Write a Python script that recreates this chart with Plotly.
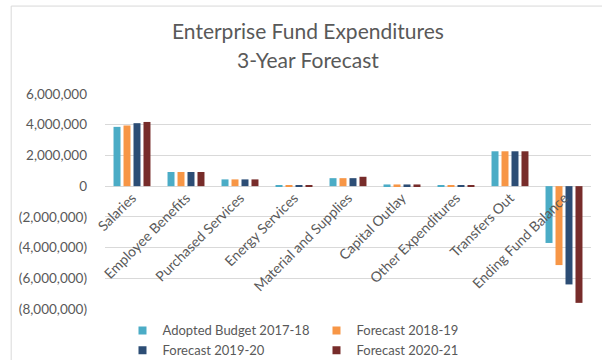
import plotly.graph_objects as go

categories = [
    "Salaries", "Employee Benefits", "Purchased Services", "Energy Services",
    "Material and Supplies", "Capital Outlay", "Other Expenditures",
    "Transfers Out", "Ending Fund Balance",
]
adopted_2017_18 = [3860000, 920000, 440000, 20000, 520000, 110000, 20000, 2270000, -3700000]
forecast_2018_19 = [3950000, 920000, 440000, 20000, 520000, 110000, 20000, 2270000, -5140000]
forecast_2019_20 = [4100000, 920000, 440000, 20000, 520000, 110000, 20000, 2270000, -6400000]
forecast_2020_21 = [4180000, 920000, 440000, 20000, 610000, 110000, 20000, 2270000, -7600000]

series_names = ["Adopted Budget 2017-18", "Forecast 2018-19", "Forecast 2019-20", "Forecast 2020-21"]
series_values = [adopted_2017_18, forecast_2018_19, forecast_2019_20, forecast_2020_21]
series_colors = ["#4BACC6", "#F79646", "#2C4D75", "#772C2A"]

y_ticks = [6000000, 4000000, 2000000, 0, -2000000, -4000000, -6000000, -8000000]
y_tick_labels = ["6,000,000", "4,000,000", "2,000,000", "0", "(2,000,000)",
                 "(4,000,000)", "(6,000,000)", "(8,000,000)"]
y_min, y_max = -8000000, 6000000

title_lines = ["Enterprise Fund Expenditures", "3-Year Forecast"]

FONT = "Lato"
TEXT = "#595959"
GRID = "#D9D9D9"

fig = go.Figure()
for name, vals, color in zip(series_names, series_values, series_colors):
    fig.add_trace(go.Bar(x=categories, y=vals, name=name, marker_color=color,
                         marker_line_width=0, showlegend=False))
# small square legend keys
for name, color in zip(series_names, series_colors):
    fig.add_trace(go.Scatter(x=[None], y=[None], mode="markers", name=name,
                             marker=dict(symbol="square", size=8, color=color)))

zero_pos = (0 - y_min) / (y_max - y_min)

# two-line chart title
for text, ypos in zip(title_lines, [1.295, 1.16]):
    fig.add_annotation(text=text, xref="paper", yref="paper", x=0.418, y=ypos,
                       xanchor="center", yanchor="middle", showarrow=False,
                       font=dict(family=FONT, size=21, color=TEXT))

fig.update_layout(
    width=602, height=360,
    margin=dict(l=105, r=11, t=94, b=51, autoexpand=False),
    paper_bgcolor="white", plot_bgcolor="white",
    font=dict(family=FONT, color=TEXT, size=13),
    barmode="group", bargap=0.26, bargroupgap=0.3,
    xaxis=dict(anchor="free", position=zero_pos, tickangle=-45,
               showgrid=False, showline=False, zeroline=False, ticks="",
               tickfont=dict(size=14, color=TEXT)),
    yaxis=dict(range=[y_min, y_max], tickvals=y_ticks, ticktext=y_tick_labels,
               showgrid=True, gridcolor=GRID, gridwidth=1,
               zeroline=True, zerolinecolor=GRID, zerolinewidth=1,
               showline=False, ticks="", ticklabelstandoff=17,
               tickfont=dict(size=13.5, color=TEXT)),
    legend=dict(orientation="h", x=0.036, xanchor="left", y=-0.03, yanchor="top",
                entrywidth=149, entrywidthmode="pixels", itemwidth=30,
                font=dict(size=13, color=TEXT), tracegroupgap=0,
                bgcolor="rgba(0,0,0,0)"),
    shapes=[dict(type="rect", xref="paper", yref="paper",
                 x0=-0.193, x1=1.06, y0=-0.3, y1=1.409,
                 line=dict(color=GRID, width=1), fillcolor="rgba(0,0,0,0)",
                 layer="below")],
)

fig.write_html("out.html")
